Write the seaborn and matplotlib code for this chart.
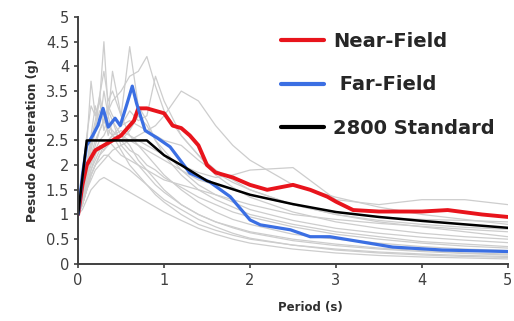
import numpy as np
import pandas as pd
import seaborn as sns
import matplotlib
matplotlib.use("Agg")
import matplotlib.pyplot as plt

# ---- data ----
period_gray = [0, .05, .1, .15, .2, .25, .3, .35, .4, .5, .6, .7, .8, .9, 1.0,
               1.2, 1.4, 1.6, 1.8, 2.0, 2.5, 3.0, 3.5, 4.0, 4.5, 5.0]

gray_sa = [
    [1, 1.6, 2.6, 3.2, 3.0, 3.3, 4.5, 3.1, 2.9, 2.6, 2.4, 2.1, 1.9, 1.7, 1.5, 1.2, 1.0, .85, .75, .65, .5, .4, .32, .27, .22, .2],
    [1, 1.4, 2.0, 2.5, 2.9, 3.4, 3.9, 3.3, 3.5, 3.0, 4.4, 3.2, 2.9, 2.5, 2.2, 1.8, 1.5, 1.3, 1.15, 1.0, .8, .65, .55, .45, .4, .35],
    [1, 1.3, 1.7, 2.1, 2.4, 2.7, 2.9, 3.1, 3.3, 3.5, 3.8, 3.9, 4.2, 3.6, 3.1, 2.6, 2.2, 1.9, 1.7, 1.5, 1.2, 1.0, .85, .75, .65, .55],
    [1, 1.2, 1.5, 1.8, 2.0, 2.2, 2.4, 2.5, 2.6, 2.8, 2.9, 2.8, 2.7, 2.8, 3.0, 3.5, 3.3, 2.8, 2.4, 2.1, 1.6, 1.35, 1.15, 1.0, .9, .8],
    [1, 1.3, 1.6, 1.9, 2.1, 2.3, 2.4, 2.5, 2.6, 2.7, 2.6, 2.5, 2.4, 2.3, 2.2, 2.0, 1.85, 1.75, 1.8, 1.9, 1.95, 1.3, 1.2, 1.3, 1.3, 1.2],
    [1, 1.5, 2.4, 3.7, 3.0, 3.3, 2.7, 3.0, 2.6, 2.3, 2.0, 1.8, 1.6, 1.4, 1.25, 1.0, .8, .68, .58, .5, .38, .3, .24, .2, .17, .15],
    [1, 1.4, 2.0, 2.6, 3.2, 2.8, 3.5, 3.0, 3.9, 3.0, 2.6, 2.4, 2.2, 2.0, 1.8, 1.5, 1.25, 1.05, .9, .8, .6, .5, .42, .35, .3, .27],
    [1, 1.3, 1.8, 2.2, 2.5, 2.7, 2.9, 3.2, 3.0, 2.8, 3.1, 2.9, 3.0, 3.8, 3.3, 2.6, 2.2, 1.8, 1.55, 1.35, 1.05, .85, .72, .62, .55, .5],
    [1, 1.2, 1.5, 1.8, 2.0, 2.1, 2.2, 2.2, 2.1, 2.0, 1.9, 1.75, 1.6, 1.45, 1.3, 1.1, .9, .75, .62, .52, .38, .28, .22, .18, .15, .13],
    [1, 1.3, 1.7, 2.0, 2.3, 2.5, 2.6, 2.8, 2.7, 2.5, 2.3, 2.2, 2.0, 1.9, 1.75, 1.55, 1.35, 1.2, 1.05, .95, .75, .6, .5, .42, .36, .32],
    [1, 1.2, 1.5, 1.7, 1.9, 2.0, 2.1, 2.2, 2.3, 2.4, 2.5, 2.6, 2.7, 2.6, 2.5, 2.4, 2.1, 1.85, 1.65, 1.5, 1.2, 1.0, .88, .8, .74, .7],
    [1, 1.25, 1.6, 1.9, 2.2, 2.4, 2.3, 2.5, 2.4, 2.2, 2.1, 2.0, 1.9, 1.8, 1.7, 1.6, 1.5, 1.4, 1.3, 1.2, 1.0, .9, .82, .76, .7, .65],
    [1, 1.1, 1.3, 1.5, 1.6, 1.7, 1.75, 1.7, 1.65, 1.55, 1.45, 1.35, 1.25, 1.15, 1.05, .88, .72, .6, .5, .42, .3, .22, .17, .14, .12, .1],
    [1, 1.4, 1.9, 2.4, 2.8, 3.1, 2.9, 2.7, 2.6, 2.5, 2.7, 3.0, 2.8, 2.5, 2.3, 1.9, 1.6, 1.4, 1.25, 1.1, .88, .72, .62, .54, .48, .43],
    [1, 1.2, 1.5, 1.8, 2.0, 2.2, 2.3, 2.4, 2.5, 2.6, 2.5, 2.4, 2.3, 2.2, 2.1, 1.9, 1.7, 1.6, 1.5, 1.4, 1.2, 1.05, .95, .9, .88, .85],
    [1, 1.3, 1.8, 2.3, 2.7, 3.4, 3.0, 2.6, 2.9, 2.4, 2.2, 2.0, 1.8, 1.6, 1.45, 1.2, 1.0, .85, .73, .63, .47, .37, .3, .25, .21, .18],
]

near_t = [0, .05, .1, .2, .3, .4, .5, .6, .65, .7, .8, .9, 1.0, 1.1, 1.2, 1.3, 1.4, 1.5,
          1.6, 1.8, 2.0, 2.2, 2.5, 2.7, 2.9, 3.0, 3.2, 3.5, 4.0, 4.3, 4.7, 5.0]
near_sa = [1, 1.6, 2.0, 2.3, 2.4, 2.5, 2.6, 2.8, 2.9, 3.15, 3.15, 3.1, 3.05, 2.8, 2.75, 2.6, 2.4, 2.0,
           1.85, 1.75, 1.6, 1.5, 1.6, 1.5, 1.36, 1.26, 1.09, 1.06, 1.06, 1.09, 1.0, .95]

far_t = [0, .05, .1, .17, .23, .29, .35, .43, .49, .57, .63, .68, .78, .92, 1.07, 1.3,
         1.53, 1.77, 2.0, 2.12, 2.47, 2.7, 2.93, 3.28, 3.66, 4.24, 5.0]
far_sa = [1, 1.8, 2.4, 2.6, 2.8, 3.15, 2.77, 2.95, 2.8, 3.25, 3.6, 3.25, 2.7, 2.55, 2.37, 1.84,
          1.66, 1.36, .89, .79, .69, .55, .55, .45, .34, .28, .25]

std_t = [0, .1, .8, 1.0, 1.2, 1.5, 2.0, 2.5, 3.0, 3.5, 4.0, 4.5, 5.0]
std_sa = [1, 2.5, 2.5, 2.2, 2.0, 1.68, 1.40, 1.21, 1.05, .95, .87, .8, .73]

# ---- plot ----
sns.set_style("ticks")
plt.rcParams['font.family'] = ['DejaVu Sans']

fig, ax = plt.subplots(figsize=(5.14, 3.21), dpi=100)
fig.subplots_adjust(left=0.152, right=0.988, bottom=0.178, top=0.947)

gray_df = pd.DataFrame([{'T': t, 'Sa': v, 'rec': i}
                        for i, rec in enumerate(gray_sa)
                        for t, v in zip(period_gray, rec)])
sns.lineplot(data=gray_df, x='T', y='Sa', units='rec', estimator=None,
             color='#cdcdcd', lw=0.9, ax=ax, legend=False)

sns.lineplot(x=near_t, y=near_sa, color='#e8141c', lw=2.8, ax=ax, label='Near-Field')
sns.lineplot(x=far_t, y=far_sa, color='#3b6fe3', lw=2.3, ax=ax, label=' Far-Field')
sns.lineplot(x=std_t, y=std_sa, color='black', lw=1.8, ax=ax, label='2800 Standard')

ax.set_xlim(0, 5)
ax.set_ylim(0, 5)
ax.set_xticks(range(6))
ax.set_yticks(np.arange(0, 5.01, 0.5))
ax.set_yticklabels([f"{v:g}" for v in np.arange(0, 5.01, 0.5)])
ax.tick_params(labelsize=10.5, colors='#404040', length=3, width=1.2)
for s in ['left', 'bottom']:
    ax.spines[s].set_color('#404040')
    ax.spines[s].set_linewidth(1.4)
sns.despine(ax=ax)

ax.set_xlabel('Period (s)', fontsize=8.5, fontweight='bold', color='#303030')
ax.xaxis.set_label_coords(0.54, -0.15)
ax.set_ylabel('Pesudo Acceleration (g)', fontsize=8.7, fontweight='bold', color='#303030', labelpad=5)

leg = ax.legend(loc='upper left', bbox_to_anchor=(0.432, 1.01), frameon=False,
                prop={'size': 14, 'weight': 'bold'}, handlelength=2.2,
                handletextpad=0.45, labelspacing=1.25)
for line in leg.get_lines():
    line.set_linewidth(3)

fig.savefig('out.png', dpi=100)
